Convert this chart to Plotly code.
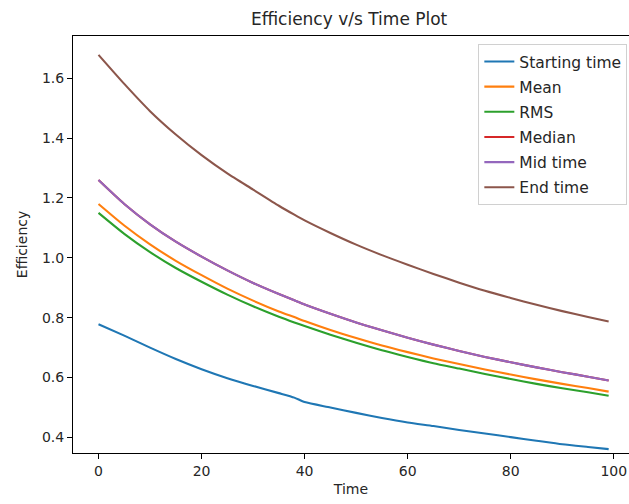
import plotly.graph_objects as go

time = [0, 5, 10, 15, 20, 25, 30, 35, 38, 40, 45, 50, 55, 60, 65, 70, 75, 80, 85, 90, 95, 99]

starting_time = [0.778, 0.740, 0.700, 0.662, 0.628, 0.598, 0.572, 0.548, 0.533, 0.518, 0.500, 0.482,
                 0.465, 0.450, 0.438, 0.425, 0.413, 0.401, 0.389, 0.377, 0.368, 0.361]
mean = [1.180, 1.108, 1.045, 0.990, 0.942, 0.897, 0.857, 0.821, 0.802, 0.789, 0.759, 0.732,
        0.707, 0.685, 0.664, 0.645, 0.627, 0.610, 0.594, 0.579, 0.565, 0.553]
rms = [1.150, 1.080, 1.019, 0.966, 0.920, 0.877, 0.838, 0.803, 0.784, 0.772, 0.743, 0.716,
       0.691, 0.669, 0.648, 0.630, 0.612, 0.595, 0.579, 0.564, 0.551, 0.539]
median = [1.260, 1.180, 1.112, 1.054, 1.004, 0.958, 0.916, 0.879, 0.858, 0.844, 0.813, 0.784,
          0.758, 0.733, 0.710, 0.689, 0.669, 0.651, 0.634, 0.618, 0.603, 0.590]
mid_time = [1.260, 1.180, 1.112, 1.054, 1.004, 0.958, 0.916, 0.879, 0.858, 0.844, 0.813, 0.784,
            0.758, 0.733, 0.710, 0.689, 0.669, 0.651, 0.634, 0.618, 0.603, 0.590]
end_time = [1.678, 1.581, 1.490, 1.412, 1.343, 1.282, 1.228, 1.174, 1.144, 1.125, 1.083, 1.044,
            1.009, 0.977, 0.946, 0.917, 0.890, 0.866, 0.843, 0.822, 0.802, 0.787]

names = ["Starting time", "Mean", "RMS", "Median", "Mid time", "End time"]
series = [starting_time, mean, rms, median, mid_time, end_time]
colors = ["#1f77b4", "#ff7f0e", "#2ca02c", "#d62728", "#9467bd", "#8c564b"]

fig = go.Figure()
for i, (n, s, c) in enumerate(zip(names, series, colors)):
    fig.add_trace(go.Scatter(x=time, y=s, mode="lines", name=n, legendgroup=f"g{i}",
                             line=dict(color=c, width=2.1, shape="spline", smoothing=0.6)))

font = "DejaVu Sans, Liberation Sans, sans-serif"
fig.update_layout(
    width=629, height=504,
    margin=dict(l=73, r=0, t=36, b=51),
    paper_bgcolor="white", plot_bgcolor="white",
    font=dict(family=font, size=14, color="#262626"),
    title=dict(text="Efficiency v/s Time Plot", x=0.555,
               xanchor="center", y=0.963, yanchor="middle",
               font=dict(size=17, family=font, color="#262626")),
    showlegend=True,
    legend=dict(x=0.997, xanchor="right", y=0.981, yanchor="top",
                bgcolor="white", bordercolor="#d0d0d0", borderwidth=1,
                font=dict(size=15.5, family=font, color="#262626"),
                tracegroupgap=2, itemwidth=30),
)
fig.update_xaxes(range=[-4.95, 102.95], tickvals=[0, 20, 40, 60, 80, 100],
                 showgrid=False, zeroline=False, showline=True, linecolor="black", linewidth=1.1,
                 mirror=True, ticks="outside", ticklen=5, tickwidth=1.1, tickcolor="black",
                 title=dict(text="Time", standoff=6, font=dict(size=14)), tickfont=dict(size=14))
fig.update_yaxes(range=[0.348, 1.741], tickvals=[0.4, 0.6, 0.8, 1.0, 1.2, 1.4, 1.6],
                 ticktext=["0.4", "0.6", "0.8", "1.0", "1.2", "1.4", "1.6"],
                 showgrid=False, zeroline=False, showline=True, linecolor="black", linewidth=1.1,
                 mirror=False, ticks="outside", ticklen=5, tickwidth=1.1, tickcolor="black",
                 title=dict(text="Efficiency", standoff=10, font=dict(size=14)), tickfont=dict(size=14))

fig.write_html("out.html")
